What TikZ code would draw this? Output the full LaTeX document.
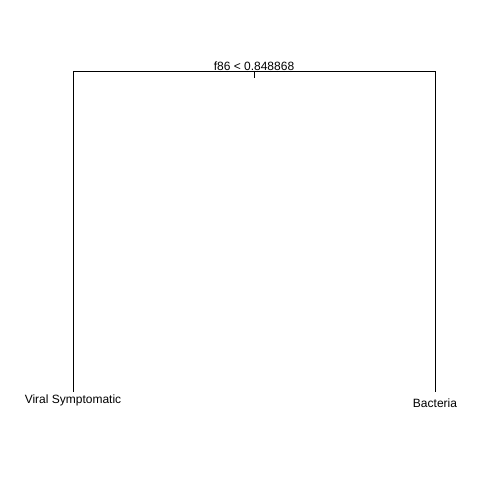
\documentclass[tikz,border=0pt]{standalone}
\usepackage{fontspec}
\setmainfont{Liberation Sans}
\begin{document}
\begin{tikzpicture}[x=1pt,y=1pt,
  edge/.style={draw=black,line width=0.9pt},
  lab/.style={inner sep=0pt,font=\fontsize{12}{14}\selectfont}]
\path[use as bounding box,fill=white] (0,0) rectangle (480,480);
\coordinate (root) at (254,409);
\coordinate (tick) at (254,402);
\coordinate (lt) at (73,409);
\coordinate (rt) at (435,409);
\coordinate (lb) at (73,88);
\coordinate (rb) at (435,88);
\node[lab] (split) at (254,414) {f86 < 0.848868};
\node[lab] (viral) at (73,80) {Viral Symptomatic};
\node[lab] (bact) at (435,77) {Bacteria};
\draw[edge] (lb) -- (lt) -- (rt) -- (rb);
\draw[edge] (root) -- (tick);
\end{tikzpicture}
\end{document}
